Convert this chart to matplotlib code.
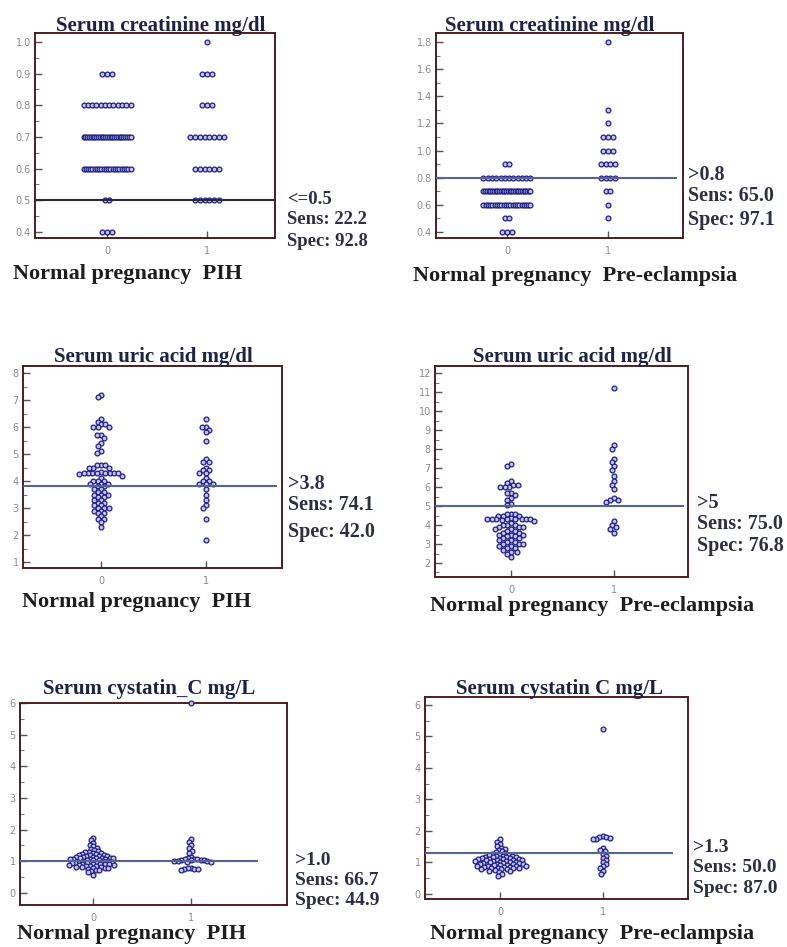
import numpy as np
import matplotlib
matplotlib.use("Agg")
import matplotlib.pyplot as plt
from matplotlib.ticker import MultipleLocator, FormatStrFormatter

# ---------------- data ----------------
# Panel 1: serum creatinine, normal pregnancy vs PIH (discrete levels)
creat_levels_a = [0.4, 0.5, 0.6, 0.7, 0.8, 0.9, 1.0]
creat_normal_a_counts = [3, 2, 22, 27, 12, 3, 0]
creat_pih_counts = [0, 6, 6, 8, 3, 3, 1]

# Panel 2: serum creatinine, normal pregnancy vs pre-eclampsia
creat_levels_b = [0.4, 0.5, 0.6, 0.7, 0.8, 0.9, 1.0, 1.1, 1.2, 1.3, 1.8]
creat_normal_b_counts = [3, 2, 22, 28, 12, 2, 0, 0, 0, 0, 0]
creat_pe_counts = [0, 1, 1, 2, 4, 4, 3, 3, 1, 1, 1]

# Serum uric acid (mg/dl)
uric_normal = [7.2, 7.1, 6.3, 6.2, 6.1, 6.1, 6.0, 6.0, 6.0, 5.7, 5.7, 5.6,
               5.4, 5.3, 5.1, 5.05, 4.6, 4.6, 4.6, 4.5, 4.5, 4.5,
               4.35, 4.3, 4.3, 4.3, 4.3, 4.3, 4.3, 4.3, 4.3, 4.25,
               4.2, 4.1, 4.0, 4.0, 4.0, 3.9, 3.9, 3.9,
               3.8, 3.8, 3.7, 3.7, 3.6, 3.6, 3.5, 3.5, 3.5, 3.4, 3.4,
               3.3, 3.3, 3.2, 3.2, 3.1, 3.1, 3.0, 3.0, 3.0, 2.9, 2.9,
               2.8, 2.8, 2.7, 2.6, 2.6, 2.5, 2.3]
uric_pih = [6.3, 6.0, 6.0, 5.9, 5.8, 5.5, 4.8, 4.7, 4.7, 4.5, 4.4, 4.4,
            4.3, 4.3, 4.1, 4.0, 4.0, 3.9, 3.9, 3.9,
            3.7, 3.5, 3.3, 3.1, 3.0, 2.6, 1.8]
uric_pe = [11.2, 8.2, 8.0, 7.5, 7.3, 7.1, 6.9, 6.6, 6.3, 6.1, 5.9,
           5.4, 5.3, 5.3, 5.2, 4.2, 4.0, 3.9, 3.8, 3.6]

# Serum cystatin C (mg/L)
cys_normal = [1.74, 1.66, 1.58, 1.52, 1.47, 1.43, 1.39, 1.35, 1.32,
              1.30, 1.28, 1.27, 1.25, 1.24, 1.22, 1.21, 1.20, 1.19, 1.18,
              1.17, 1.16, 1.15, 1.14, 1.13, 1.12, 1.12, 1.11, 1.10, 1.09,
              1.08, 1.07, 1.07, 1.06, 1.05, 1.04, 1.03, 1.02, 1.01,
              1.00, 0.99, 0.98, 0.97, 0.96, 0.95, 0.95, 0.94, 0.93, 0.92,
              0.91, 0.90, 0.90, 0.89, 0.88, 0.87, 0.86, 0.85, 0.84, 0.83,
              0.82, 0.81, 0.80, 0.79, 0.78, 0.76, 0.74, 0.72, 0.69, 0.65, 0.58]
cys_pih = [6.0, 1.72, 1.62, 1.52, 1.42, 1.33, 1.25, 1.15, 1.10, 1.08, 1.07,
           1.06, 1.05, 1.04, 1.03, 1.03, 1.02, 1.01,
           1.00, 0.99, 0.98, 0.80, 0.78, 0.77, 0.76, 0.75, 0.74]
cys_pe = [5.25, 1.85, 1.82, 1.80, 1.78, 1.76, 1.74, 1.45, 1.40, 1.36,
          1.28, 1.22, 1.15, 1.08, 1.02, 0.96, 0.88, 0.82, 0.72, 0.62]

titles = ["Serum creatinine mg/dl", "Serum creatinine mg/dl",
          "Serum uric acid mg/dl", "Serum uric acid mg/dl",
          "Serum cystatin_C mg/L", "Serum cystatin C mg/L"]
xlabels = ["Normal pregnancy  PIH", "Normal pregnancy  Pre-eclampsia",
           "Normal pregnancy  PIH", "Normal pregnancy  Pre-eclampsia",
           "Normal pregnancy  PIH", "Normal pregnancy  Pre-eclampsia"]
cutoffs = [0.5, 0.8, 3.8, 5.0, 1.0, 1.3]
criterion_labels = ["<=0.5", ">0.8", ">3.8", ">5", ">1.0", ">1.3"]
sens = ["22.2", "65.0", "74.1", "75.0", "66.7", "50.0"]
spec = ["92.8", "97.1", "42.0", "76.8", "44.9", "87.0"]

# ---------------- layout (pixels) ----------------
W, H = 787, 947
fig = plt.figure(figsize=(W / 100, H / 100), dpi=100)
fig.patch.set_facecolor("white")

# left, top, right, bottom
boxes = [(35, 33, 275, 238), (436, 33, 683, 238),
         (23, 366, 282, 568), (435, 366, 688, 577),
         (20, 703, 287, 905), (425, 697, 688, 899)]
xlims = [(-0.72, 1.68), (-0.703, 1.743), (-0.743, 1.724),
         (-0.738, 1.718), (-0.745, 1.98), (-0.728, 1.825)]
ylims = [(0.381, 1.028), (0.356, 1.866), (0.78, 8.26),
         (1.263, 12.37), (-0.379, 6.0), (-0.159, 6.254)]
major = [0.1, 0.2, 1, 1, 1, 1]
minor = [0.05, 0.1, 0.5, 0.5, 0.5, 0.5]
fmts = ["%.1f", "%.1f", "%d", "%d", "%d", "%d"]
line_colors = ["#2a2a3a", "#56658f", "#56658f", "#56658f", "#56658f", "#56658f"]
swarm_gap = [4.8, 4.8, 4.4, 4.4, 3.5, 3.7]

title_pos = [(161, 31), (550, 31), (153, 362), (572, 362), (149, 694), (560, 694)]
xlabel_pos = [(13, 279), (413, 281), (22, 607), (430, 611), (17, 939), (430, 939)]
stat_x = [287, 688, 288, 697, 295, 693]
stat_y = [(204, 224, 246), (180, 201, 225), (489, 510, 537),
          (508, 529, 551), (865, 885, 905), (852, 872, 893)]
stat_size = [13.5, 14.5, 14.5, 14.5, 14, 14]

frame_color = "#4d1f1f"
dot_edge = "#1f1f85"
dot_face = "#c4c4ee"
SERIF = "Liberation Serif"


def expand(levels, counts):
    out = []
    for v, c in zip(levels, counts):
        out += [v] * c
    return out


def row_offsets(values, d, maxspan=47.0):
    vals = np.asarray(values, float)
    off = np.zeros(len(vals))
    for v in np.unique(vals):
        idx = np.where(vals == v)[0]
        n = len(idx)
        if n > 1:
            span = min((n - 1) * d, maxspan)
            off[idx] = np.linspace(-span / 2, span / 2, n)
    return off


def swarm_offsets(ypx, d):
    ypx = np.asarray(ypx, float)
    order = np.argsort(-ypx, kind="stable")
    placed = []
    off = np.zeros(len(ypx))
    for i in order:
        y = ypx[i]
        cands = [0.0]
        for xj, yj in placed:
            dy = abs(y - yj)
            if dy < d:
                dx = np.sqrt(d * d - dy * dy)
                cands += [xj + dx, xj - dx]
        cands.sort(key=lambda c: (abs(c), c))
        chosen = cands[-1]
        for c in cands:
            ok = True
            for xj, yj in placed:
                if (c - xj) ** 2 + (y - yj) ** 2 < d * d - 1e-6:
                    ok = False
                    break
            if ok:
                chosen = c
                break
        placed.append((chosen, y))
        off[i] = chosen
    return off


groups = [
    (expand(creat_levels_a, creat_normal_a_counts), expand(creat_levels_a, creat_pih_counts), "rows"),
    (expand(creat_levels_b, creat_normal_b_counts), expand(creat_levels_b, creat_pe_counts), "rows"),
    (uric_normal, uric_pih, "swarm"),
    (uric_normal, uric_pe, "swarm"),
    (cys_normal, cys_pih, "swarm"),
    (cys_normal, cys_pe, "swarm"),
]

for k in range(6):
    l, t, r, b = boxes[k]
    ax = fig.add_axes([l / W, 1 - b / H, (r - l) / W, (b - t) / H])
    x0, x1 = xlims[k]
    y0, y1 = ylims[k]
    ax.set_xlim(x0, x1)
    ax.set_ylim(y0, y1)
    ppx = (r - l) / (x1 - x0)
    ppy = (b - t) / (y1 - y0)

    for g, vals in enumerate(groups[k][:2]):
        vals = np.asarray(vals, float)
        if groups[k][2] == "rows":
            offp = row_offsets(vals, swarm_gap[k])
        else:
            offp = swarm_offsets(vals * ppy, swarm_gap[k])
        xs = g + offp / ppx
        ax.scatter(xs, vals, s=12, facecolor=dot_face, edgecolor=dot_edge,
                   linewidths=0.9, zorder=3, clip_on=False)

    ax.plot([x0, 1.68], [cutoffs[k], cutoffs[k]], color=line_colors[k],
            lw=1.5, zorder=4, solid_capstyle="butt")

    for s in ax.spines.values():
        s.set_color(frame_color)
        s.set_linewidth(1.4)
    ax.set_xticks([0, 1])
    ax.set_xticklabels(["0", "1"])
    ax.yaxis.set_major_locator(MultipleLocator(major[k]))
    ax.yaxis.set_minor_locator(MultipleLocator(minor[k]))
    ax.yaxis.set_major_formatter(FormatStrFormatter(fmts[k]))
    ax.tick_params(axis="both", which="major", direction="in", length=5,
                   width=1.0, color="#555555", labelsize=7, labelcolor="#8a8a8a",
                   pad=3)
    ax.tick_params(axis="y", which="minor", direction="in", length=3,
                   width=0.8, color="#777777")
    ax.tick_params(axis="x", which="major", pad=6)

    # title
    tx, ty = title_pos[k]
    fig.text(tx / W, 1 - ty / H, titles[k], ha="center", va="baseline",
             fontsize=15, fontweight="bold", family=SERIF, color="#1c2344")
    # x label
    lx, ly = xlabel_pos[k]
    fig.text(lx / W, 1 - ly / H, xlabels[k], ha="left", va="baseline",
             fontsize=16, fontweight="bold", family=SERIF, color="#1e1e1e")
    # statistics
    sx = stat_x[k]
    lines = [criterion_labels[k], "Sens: " + sens[k], "Spec: " + spec[k]]
    for txt, yy in zip(lines, stat_y[k]):
        fig.text(sx / W, 1 - yy / H, txt, ha="left", va="baseline",
                 fontsize=stat_size[k], fontweight="bold", family=SERIF,
                 color="#2b3042")

fig.savefig("out.png", dpi=100, facecolor="white")
